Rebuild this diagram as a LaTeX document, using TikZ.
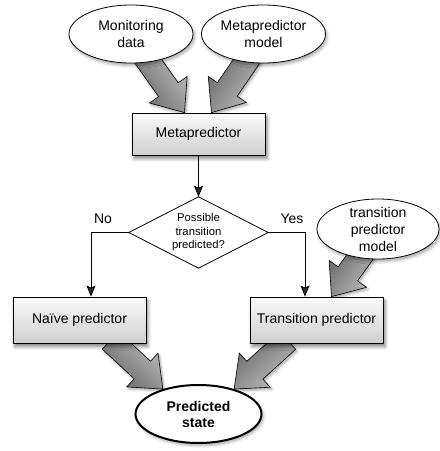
\documentclass[tikz,border=0pt]{standalone}
\usepackage{fontspec}
\setmainfont{Liberation Sans}
\usetikzlibrary{shapes.geometric,shadows.blur,calc,arrows.meta,backgrounds}
\tikzset{
  base/.style={font=\fontsize{14}{17}\selectfont, align=center},
  ell/.style={base, ellipse, draw, line width=0.8pt, fill=white, inner xsep=0pt, inner ysep=-4pt,
    minimum width=124pt, minimum height=58pt,
    blur shadow={shadow xshift=1.5pt, shadow yshift=-2.5pt, shadow blur radius=3pt, shadow opacity=35}},
  box/.style={base, rectangle, draw, line width=0.8pt, top color=gray!4, bottom color=gray!38,
    minimum width=133pt, minimum height=46pt, inner sep=0pt,
    blur shadow={shadow xshift=2pt, shadow yshift=-3.5pt, shadow blur radius=3.5pt, shadow opacity=50}},
  conn/.style={line width=0.8pt, -{Stealth[length=11pt,width=9pt,inset=2pt]}},
  fat/.style={draw=black, line width=0.6pt, left color=gray!50, middle color=gray!25, right color=gray!80!black,
    blur shadow={shadow xshift=1.5pt, shadow yshift=-2pt, shadow blur radius=2.5pt, shadow opacity=35}},
  diam/.style={draw, line width=0.8pt, fill=white},
}
\newcommand\fatarr[3]{%
  \coordinate (fh) at ($(#2)!28pt!(#1)$);
  \path[fat, shading angle=#3] ($(#1)!12pt!90:(#2)$) -- ($(fh)!12pt!90:(#2)$) -- ($(fh)!23pt!90:(#2)$)
    -- (#2) -- ($(fh)!23pt!-90:(#2)$) -- ($(fh)!12pt!-90:(#2)$) -- ($(#1)!12pt!-90:(#2)$) -- cycle;}
\begin{document}
\begin{tikzpicture}[x=1pt,y=-1pt]
\useasboundingbox (0,0) rectangle (440,451);
% nodes
\node[ell] (mon) at (131,34) {Monitoring\\data};
\node[ell] (mm) at (263.5,34) {Metapredictor\\model};
\node[box, minimum height=42pt] (meta) at (198.5,134) {Metapredictor};
\node[base, font=\fontsize{11.3}{13.5}\selectfont, minimum width=139pt, minimum height=71pt, inner sep=0pt] (d) at (198.5,232.5) {Possible\\transition\\predicted?};
\node[ell, minimum width=122pt, minimum height=60pt] (tm) at (378,229) {transition\\predictor\\model};
\node[box] (naive) at (79.5,320) {Naïve predictor};
\node[box] (trans) at (316.5,320) {Transition predictor};
\node[ell, line width=2pt, minimum width=126pt, font=\fontsize{14}{16}\selectfont\bfseries] (pred) at (198.5,414) {Predicted\\state};
\node[base] (no) at (103,219) {No};
\node[base] (yes) at (292,219) {Yes};
% connector end points
\coordinate (s1) at ($(mon.center)!0.55!(mon.-60)$);
\coordinate (e1) at ([xshift=-14pt]meta.north);
\coordinate (s2) at ($(mm.center)!0.55!(mm.-120)$);
\coordinate (e2) at ([xshift=13pt]meta.north);
\coordinate (s3) at ($(tm.center)!0.5!(tm.-120)$);
\coordinate (e3) at ([xshift=15pt]trans.north);
\coordinate (s4) at ($(naive.south east)+(-36,-3)$);
\coordinate (e4) at (pred.145);
\coordinate (s5) at ($(trans.south west)+(38,-3)$);
\coordinate (e5) at (pred.35);
\begin{pgfonlayer}{background}
  \fatarr{s1}{e1}{-55}
  \fatarr{s2}{e2}{-124}
  \fatarr{s3}{e3}{-125}
  \fatarr{s4}{e4}{-43}
  \fatarr{s5}{e5}{-138}
  \path[diam] (d.west) -- (d.north) -- (d.east) -- (d.south) -- cycle;
\end{pgfonlayer}
% thin connectors
\draw[conn] (meta.south) -- (d.north);
\draw[conn] (d.west) -| ([xshift=11.5pt]naive.north);
\draw[conn] (d.east) -| ([xshift=-11.5pt]trans.north);
\end{tikzpicture}
\end{document}
